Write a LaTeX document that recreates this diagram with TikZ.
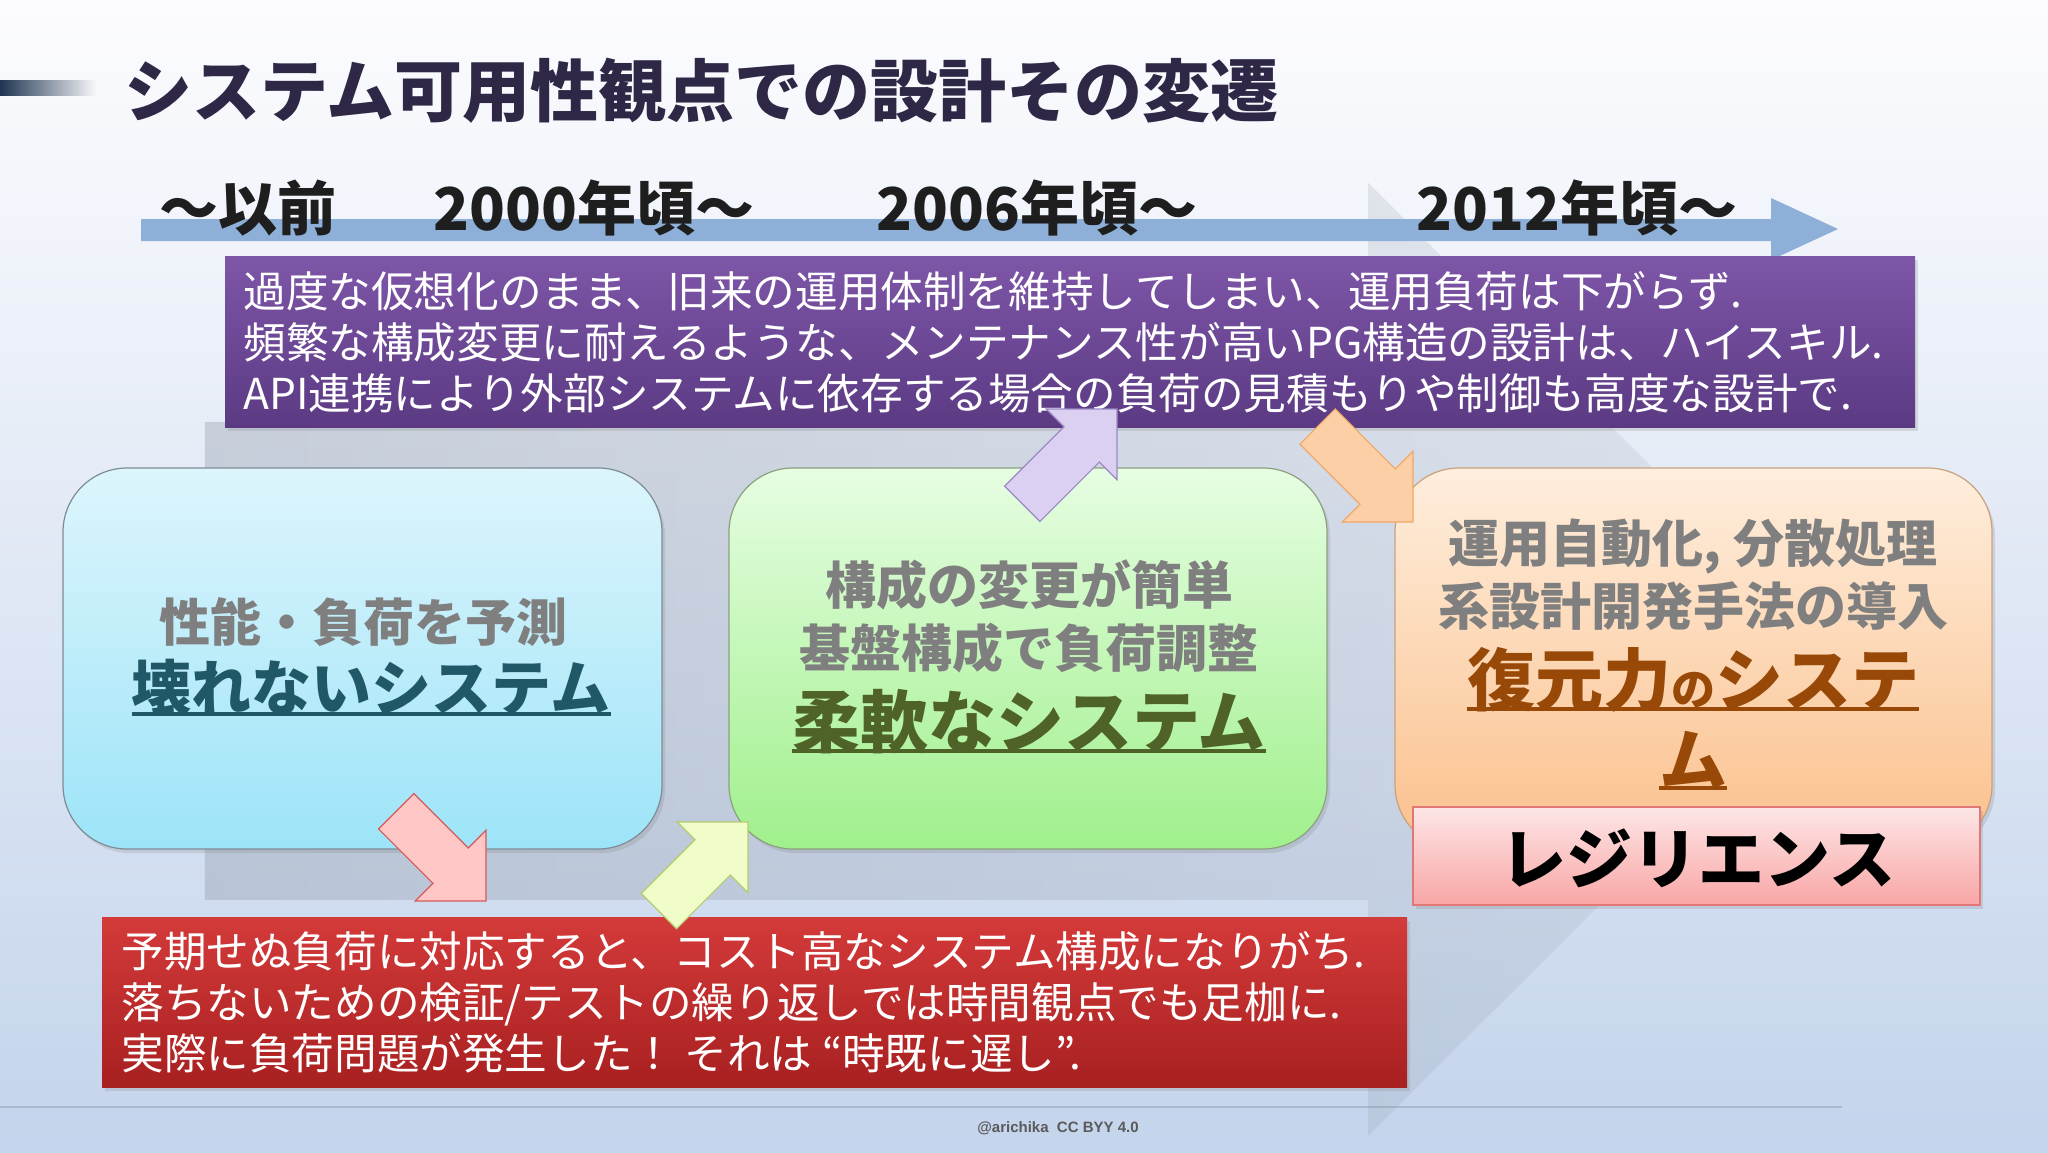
\documentclass[tikz,border=0pt]{standalone}
\usepackage{fontspec}
\setmainfont{Noto Sans CJK JP}
\newfontfamily\footfont{Liberation Sans}
\usetikzlibrary{shadows,fadings}

\definecolor{bgtop}{HTML}{FCFCFE}
\definecolor{bgmid}{HTML}{E0E8F4}
\definecolor{bgbot}{HTML}{C4D4EC}
\definecolor{barnavy}{HTML}{1F3552}
\definecolor{footline}{HTML}{A9B9CE}
\definecolor{footc}{HTML}{5A5A5A}
\definecolor{titlec}{HTML}{2E2846}
\definecolor{yearc}{HTML}{1E1E1E}
\definecolor{tlc}{HTML}{8EAFD8}
\definecolor{bigc}{HTML}{8C96A5}
\definecolor{purtop}{HTML}{7E56A8}
\definecolor{purbot}{HTML}{5B3A83}
\definecolor{bluetop}{HTML}{DDF5FC}
\definecolor{bluebot}{HTML}{9DE4F8}
\definecolor{blueln}{HTML}{7D8C96}
\definecolor{greentop}{HTML}{E6FDE2}
\definecolor{greenbot}{HTML}{A0F08C}
\definecolor{greenln}{HTML}{8CA080}
\definecolor{orgtop}{HTML}{FEEEDD}
\definecolor{orgbot}{HTML}{FBC08C}
\definecolor{orgln}{HTML}{C8A27E}
\definecolor{pinktop}{HTML}{FDE6E6}
\definecolor{pinkbot}{HTML}{F9A6A6}
\definecolor{pinkln}{HTML}{E07878}
\definecolor{redtop}{HTML}{D43A3A}
\definecolor{redbot}{HTML}{A82020}
\definecolor{gtxt}{HTML}{7F7F7F}
\definecolor{ulblue}{HTML}{215868}
\definecolor{ulgreen}{HTML}{4F6228}
\definecolor{ulbrown}{HTML}{984807}
\definecolor{apinkf}{HTML}{FFC6C6}
\definecolor{apinkd}{HTML}{D25A5A}
\definecolor{agreenf}{HTML}{F0FDC8}
\definecolor{agreend}{HTML}{B4CC6E}
\definecolor{alavf}{HTML}{DCD0F2}
\definecolor{alavd}{HTML}{9A88C4}
\definecolor{aorgf}{HTML}{FDCFA6}
\definecolor{aorgd}{HTML}{F0A868}

\tikzfading[name=bigfade, left color=transparent!0, right color=transparent!65]

\tikzset{
  blockarrow/.pic={\path[pic actions] (0,0) -- (-50,50) -- (-50,25) -- (-#1,25) -- (-#1,-25) -- (-50,-25) -- (-50,-50) -- cycle;},
  rbox/.style={rounded corners=32pt, line width=0.6pt, inner sep=0pt,
    drop shadow={opacity=0.22, shadow xshift=1.5pt, shadow yshift=-2pt}},
  sbox/.style={inner sep=0pt, drop shadow={opacity=0.22, shadow xshift=1.5pt, shadow yshift=-2pt}},
  gtext/.style={text=gtxt, font=\bfseries\fontsize{25.5}{30}\selectfont, inner sep=0pt},
  ptext/.style={text=white, align=left, font=\fontsize{21.3}{25.5}\selectfont, inner sep=0pt},
  yeartext/.style={text=yearc, font=\bfseries\fontsize{29.5}{32}\selectfont, inner sep=0pt},
  uline/.style={line width=2pt},
  arrpink/.style={fill=apinkf, draw=apinkd, line width=0.6pt},
  arrgreen/.style={fill=agreenf, draw=agreend, line width=0.6pt},
  arrlav/.style={fill=alavf, draw=alavd, line width=0.6pt},
  arrorg/.style={fill=aorgf, draw=aorgd, line width=0.6pt},
}

\begin{document}
\begin{tikzpicture}[x=0.5pt,y=-0.5pt]
\useasboundingbox (0,0) rectangle (2048,1152);
% background
\shade[top color=bgtop, middle color=bgmid, bottom color=bgbot] (0,0) rectangle (2048,1152);
\draw[footline, line width=1pt] (0,1107) -- (1842,1107);
\shade[left color=barnavy, right color=bgtop] (0,80) rectangle (98,95);

% big background arrow
\fill[bigc, fill opacity=0.35, path fading=bigfade] (206,422) -- (1371,422) -- (1371,183) -- (1848,660) -- (1371,1136) -- (1371,900) -- (206,900) -- cycle;

% timeline arrow
\fill[tlc] (141,219) -- (1771,219) -- (1771,198) -- (1838,229) -- (1771,260) -- (1771,241) -- (141,241) -- cycle;
\node[yeartext] (y0) at (248,208) {〜以前};
\node[yeartext] (y1) at (594,208) {2000年頃〜};
\node[yeartext] (y2) at (1037,208) {2006年頃〜};
\node[yeartext] (y3) at (1577,208) {2012年頃〜};

% title
\node[anchor=west, inner sep=0pt, text=titlec, font=\bfseries\fontsize{34}{40}\selectfont] (title) at (124,91) {システム可用性観点での設計その変遷};

% purple box
\node[sbox, top color=purtop, bottom color=purbot, minimum width=845pt, minimum height=85.5pt] (purple) at (1070,341.5) {};
\node[ptext, anchor=west] (ptxt) at (243,342) {過度な仮想化のまま、旧来の運用体制を維持してしまい、運用負荷は下がらず.\\頻繁な構成変更に耐えるような、メンテナンス性が高いPG構造の設計は、ハイスキル.\\API連携により外部システムに依存する場合の負荷の見積もりや制御も高度な設計で.};

% blue box
\node[rbox, draw=blueln, top color=bluetop, bottom color=bluebot, minimum width=299.5pt, minimum height=190.5pt] (blue) at (362.5,658.5) {};
\node[gtext] (b1) at (363,622) {性能・負荷を予測};
\node[inner sep=0pt, text=ulblue, font=\bfseries\fontsize{30}{36}\selectfont] (b2) at (371,688) {壊れないシステム};
\draw[uline, ulblue] ([yshift=-1.5pt]b2.base west) -- ([yshift=-1.5pt]b2.base east);

% green box
\node[rbox, draw=greenln, top color=greentop, bottom color=greenbot, minimum width=299pt, minimum height=190.5pt] (green) at (1028,658.5) {};
\node[gtext] (g1) at (1029,585) {構成の変更が簡単};
\node[gtext] (g2) at (1029,648) {基盤構成で負荷調整};
\node[inner sep=0pt, text=ulgreen, font=\bfseries\fontsize{34}{40}\selectfont] (g3) at (1029,722) {柔軟なシステム};
\draw[uline, ulgreen] ([yshift=-1.5pt]g3.base west) -- ([yshift=-1.5pt]g3.base east);

% orange box
\node[rbox, draw=orgln, top color=orgtop, bottom color=orgbot, minimum width=298.5pt, minimum height=190.5pt] (orange) at (1693.5,658.5) {};
\node[gtext] (o1) at (1693,546) {運用自動化, 分散処理};
\node[gtext] (o2) at (1693,606) {系設計開発手法の導入};
\node[inner sep=0pt, text=ulbrown, font=\bfseries\fontsize{34}{40}\selectfont] (o3) at (1693,680) {復元力{\fontsize{22}{24}\selectfont の}システ};
\draw[uline, ulbrown] ([yshift=-1.5pt]o3.base west) -- ([yshift=-1.5pt]o3.base east);
\node[inner sep=0pt, text=ulbrown, font=\bfseries\fontsize{34}{40}\selectfont] (o4) at (1693,760) {ム};
\draw[uline, ulbrown] ([yshift=-1.5pt]o4.base west) -- ([yshift=-1.5pt]o4.base east);

% resilience box
\node[sbox, draw=pinkln, line width=0.6pt, top color=pinktop, bottom color=pinkbot, minimum width=283.5pt, minimum height=49pt] (res) at (1696.5,856) {};
\node[inner sep=0pt, text=black, font=\bfseries\fontsize{33}{38}\selectfont] (restxt) at (1698,858) {レジリエンス};

% red box
\node[sbox, top color=redtop, bottom color=redbot, minimum width=652.5pt, minimum height=85pt] (red) at (754.5,1002) {};
\node[ptext, anchor=west] (rtxt) at (121,1002) {予期せぬ負荷に対応すると、コスト高なシステム構成になりがち.\\落ちないための検証/テストの繰り返しでは時間観点でも足枷に.\\実際に負荷問題が発生した！ それは “時既に遅し”.};

% block arrows
\coordinate (tipA) at (486,901);
\coordinate (tipB) at (748,822);
\coordinate (tipC) at (1117,409);
\coordinate (tipD) at (1413,522);
\pic[arrpink, rotate=-45] at (tipA) {blockarrow=127};
\pic[arrgreen, rotate=45] at (tipB) {blockarrow=126};
\pic[arrlav, rotate=45] at (tipC) {blockarrow=134};
\pic[arrorg, rotate=-45] at (tipD) {blockarrow=135};

% footer
\node[inner sep=0pt, text=footc, font=\footfont\bfseries\fontsize{7.5}{9}\selectfont] (foot) at (1058,1128) {@arichika\ \ CC BYY 4.0};
\end{tikzpicture}
\end{document}
